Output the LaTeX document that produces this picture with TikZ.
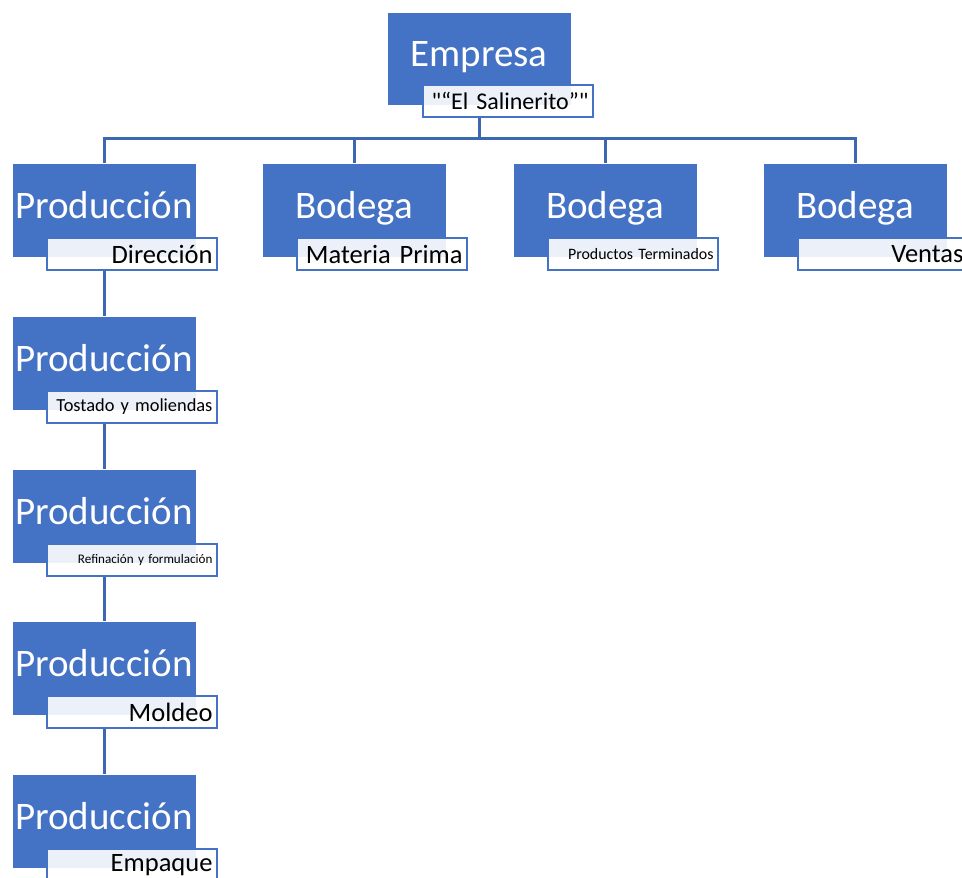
\documentclass[tikz,border=0pt]{standalone}
\usepackage{fontspec}
\setmainfont{Carlito}[Ligatures=TeXOff]
\definecolor{sblue}{HTML}{4472C4}
\definecolor{lineblue}{HTML}{3D66B3}
\tikzset{
  unitbox/.style={draw=white,line width=0.6pt,fill=sblue,text=white,
    minimum width=184pt,minimum height=94pt,inner sep=0pt,
    text height=16pt,text depth=0pt,font=\fontsize{39}{46}\selectfont},
  tagbox/.style={draw=sblue,line width=2.8pt,fill=white,fill opacity=0.9,
    text opacity=1,text=black,minimum width=170pt,minimum height=32pt,
    text width=161pt,align=right,inner sep=0pt,font=\fontsize{26.5}{30}\selectfont},
  link/.style={draw=lineblue,line width=3pt}
}
\begin{document}
\begin{tikzpicture}[x=1pt,y=-1pt]
\useasboundingbox (0,0) rectangle (962,878);
% top box
\draw (479,58.5) node[unitbox,minimum height=93pt](empresa) {Empresa};
\draw (508,101) node[tagbox,font=\fontsize{24}{28}\selectfont](salin) {"“El Salinerito”"};
% second row
\draw (104,210) node[unitbox](prodA) {Producción};
\draw (132,254) node[tagbox](dir) {Dirección};
\draw (354,210) node[unitbox](bodA) {Bodega};
\draw (382,254) node[tagbox](mat) {Materia Prima};
\draw (605,210) node[unitbox](bodB) {Bodega};
\draw (633,254) node[tagbox,font=\fontsize{15.9}{18}\selectfont](term) {Productos Terminados};
\draw (855,210) node[unitbox](bodC) {Bodega};
\draw (883,254) node[tagbox](ventas) {Ventas};
% production chain
\draw (104,363) node[unitbox](prodB) {Producción};
\draw (132,407) node[tagbox,font=\fontsize{18.4}{21}\selectfont](tost) {Tostado y moliendas};
\draw (104,516) node[unitbox](prodC) {Producción};
\draw (132,560) node[tagbox,font=\fontsize{13.1}{15}\selectfont](refin) {Refinación y formulación};
\draw (104,668) node[unitbox](prodD) {Producción};
\draw (132,712) node[tagbox](mold) {Moldeo};
\draw (104,821) node[unitbox](prodE) {Producción};
\draw (132,865) node[tagbox](empq) {Empaque};
% connectors
\coordinate (bar) at (0,138.5);
\draw[link] (empresa.south |- salin.south) -- (empresa |- bar);
\draw[link] (prodA.north) -- (prodA |- bar) -- (bodC |- bar) -- (bodC.north);
\draw[link] (bodA.north) -- (bodA |- bar);
\draw[link] (bodB.north) -- (bodB |- bar);
\draw[link] (prodA.south |- dir.south) -- (prodB.north);
\draw[link] (prodB.south |- tost.south) -- (prodC.north);
\draw[link] (prodC.south |- refin.south) -- (prodD.north);
\draw[link] (prodD.south |- mold.south) -- (prodE.north);
\end{tikzpicture}
\end{document}
